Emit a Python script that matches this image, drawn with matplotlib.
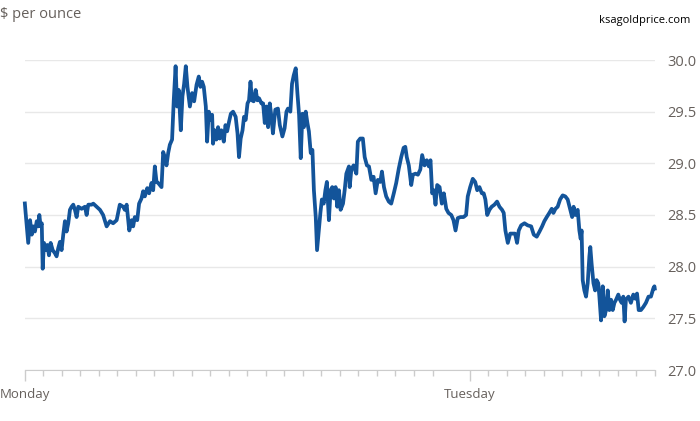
import matplotlib
matplotlib.use("Agg")
import matplotlib.pyplot as plt

plt.rcParams['font.family'] = ['Open Sans', 'DejaVu Sans']

# hours since Monday 00:00, price in $ per ounce
hours = [
    0.00, 0.05, 0.19, 0.29, 0.38, 0.46, 0.55, 0.65, 0.73, 0.79,
    0.86, 0.92, 0.97, 1.04, 1.13, 1.22, 1.31, 1.40, 1.51, 1.63,
    1.72, 1.81, 1.90, 1.99, 2.08, 2.17, 2.26, 2.35, 2.44, 2.53,
    2.62, 2.71, 2.80, 2.89, 3.07, 3.25, 3.34, 3.43, 3.61, 3.70,
    3.88, 4.06, 4.23, 4.42, 4.60, 4.77, 4.96, 5.13, 5.31, 5.40,
    5.50, 5.64, 5.77, 5.85, 5.94, 6.07, 6.17, 6.30, 6.39, 6.48,
    6.61, 6.71, 6.84, 6.93, 7.02, 7.11, 7.20, 7.38, 7.47, 7.56,
    7.65, 7.74, 7.83, 7.95, 8.04, 8.14, 8.22, 8.31, 8.42, 8.51,
    8.60, 8.69, 8.78, 8.91, 9.03, 9.14, 9.27, 9.39, 9.48, 9.57,
    9.66, 9.77, 9.84, 9.93, 10.02, 10.11, 10.16, 10.25, 10.34, 10.43,
    10.52, 10.61, 10.74, 10.83, 10.92, 11.02, 11.12, 11.24, 11.38, 11.48,
    11.56, 11.65, 11.75, 11.83, 11.92, 12.02, 12.10, 12.18, 12.26, 12.35,
    12.46, 12.55, 12.64, 12.77, 12.86, 12.95, 13.04, 13.13, 13.22, 13.31,
    13.39, 13.52, 13.66, 13.76, 13.90, 14.02, 14.12, 14.20, 14.33, 14.42,
    14.51, 14.62, 14.71, 14.80, 14.89, 14.98, 15.06, 15.16, 15.25, 15.33,
    15.43, 15.52, 15.60, 15.70, 15.77, 15.86, 15.95, 16.03, 16.13, 16.22,
    16.30, 16.41, 16.50, 16.59, 16.68, 16.77, 16.86, 16.95, 17.04, 17.17,
    17.26, 17.35, 17.49, 17.53, 17.62, 17.74, 17.89, 17.97, 18.10, 18.24,
    18.34, 18.46, 18.57, 18.70, 18.82, 18.93, 19.05, 19.18, 19.27, 19.38,
    19.50, 19.64, 19.77, 19.91, 20.04, 20.18, 20.31, 20.44, 20.53, 20.61,
    20.72, 20.85, 20.94, 21.08, 21.21, 21.34, 21.44, 21.57, 21.69, 21.80,
    21.89, 21.98, 22.07, 22.16, 22.25, 22.38, 22.50, 22.61, 22.74, 22.86,
    23.01, 23.13, 23.24, 23.36, 23.51, 23.67, 23.81, 23.90, 24.03, 24.17,
    24.30, 24.41, 24.53, 24.66, 24.76, 24.85, 24.95, 25.07, 25.19, 25.34,
    25.48, 25.61, 25.75, 25.84, 25.93, 26.06, 26.19, 26.33, 26.45, 26.56,
    26.65, 26.78, 26.96, 27.13, 27.32, 27.46, 27.62, 27.77, 27.91, 28.03,
    28.16, 28.30, 28.43, 28.52, 28.63, 28.75, 28.88, 29.02, 29.16, 29.29,
    29.42, 29.53, 29.61, 29.70, 29.83, 29.92, 29.99, 30.04, 30.10, 30.19,
    30.28, 30.37, 30.46, 30.51, 30.58, 30.68, 30.77, 30.85, 30.94, 31.00,
    31.09, 31.18, 31.27, 31.36, 31.45, 31.54, 31.63, 31.72, 31.81, 31.90,
    32.02, 32.11, 32.20, 32.29, 32.36, 32.43, 32.57, 32.70, 32.83, 32.94,
    33.03, 33.12, 33.24, 33.37, 33.51, 33.65, 33.78, 33.91, 33.97, 34.00,
]
price = [
    28.63, 28.52, 28.23, 28.45, 28.31, 28.39, 28.34, 28.44, 28.39, 28.50,
    28.39, 28.42, 27.98, 28.23, 28.16, 28.21, 28.11, 28.23, 28.16, 28.13,
    28.10, 28.18, 28.24, 28.16, 28.31, 28.44, 28.34, 28.42, 28.55, 28.58,
    28.60, 28.55, 28.48, 28.58, 28.56, 28.58, 28.50, 28.60, 28.60, 28.61,
    28.58, 28.55, 28.50, 28.39, 28.44, 28.42, 28.45, 28.60, 28.58, 28.55,
    28.60, 28.35, 28.45, 28.39, 28.48, 28.45, 28.61, 28.66, 28.73, 28.68,
    28.76, 28.71, 28.81, 28.74, 28.97, 28.82, 28.81, 28.77, 29.11, 29.06,
    28.98, 29.10, 29.18, 29.23, 29.61, 29.94, 29.55, 29.71, 29.32, 29.65,
    29.77, 29.94, 29.74, 29.55, 29.68, 29.60, 29.76, 29.84, 29.74, 29.79,
    29.74, 29.55, 29.21, 29.50, 29.42, 29.47, 29.19, 29.32, 29.23, 29.35,
    29.24, 29.32, 29.21, 29.37, 29.31, 29.40, 29.48, 29.50, 29.45, 29.29,
    29.06, 29.24, 29.32, 29.45, 29.42, 29.58, 29.61, 29.79, 29.61, 29.60,
    29.71, 29.61, 29.63, 29.58, 29.58, 29.39, 29.55, 29.35, 29.58, 29.45,
    29.29, 29.52, 29.53, 29.37, 29.26, 29.34, 29.50, 29.53, 29.50, 29.77,
    29.85, 29.92, 29.68, 29.47, 29.05, 29.48, 29.35, 29.50, 29.39, 29.31,
    29.10, 29.13, 28.74, 28.48, 28.16, 28.34, 28.52, 28.65, 28.61, 28.74,
    28.82, 28.45, 28.74, 28.77, 28.66, 28.77, 28.58, 28.74, 28.55, 28.61,
    28.74, 28.90, 28.97, 28.77, 28.94, 28.98, 28.90, 29.21, 29.24, 29.24,
    29.06, 28.98, 28.97, 28.84, 28.87, 28.71, 28.84, 28.82, 28.92, 28.77,
    28.68, 28.63, 28.61, 28.71, 28.81, 28.95, 29.06, 29.15, 29.16, 29.06,
    28.98, 28.79, 28.89, 28.90, 28.89, 28.94, 29.08, 28.98, 29.03, 28.97,
    29.03, 28.71, 28.74, 28.60, 28.79, 28.77, 28.61, 28.71, 28.56, 28.52,
    28.50, 28.45, 28.35, 28.47, 28.48, 28.48, 28.50, 28.68, 28.77, 28.85,
    28.82, 28.74, 28.77, 28.71, 28.71, 28.65, 28.50, 28.55, 28.58, 28.60,
    28.63, 28.58, 28.55, 28.52, 28.35, 28.23, 28.32, 28.32, 28.32, 28.23,
    28.35, 28.40, 28.42, 28.40, 28.39, 28.31, 28.29, 28.34, 28.39, 28.44,
    28.48, 28.52, 28.56, 28.52, 28.56, 28.58, 28.65, 28.69, 28.68, 28.65,
    28.56, 28.48, 28.58, 28.50, 28.55, 28.35, 28.27, 28.35, 27.87, 27.77,
    27.71, 27.84, 28.10, 28.19, 28.03, 27.84, 27.77, 27.87, 27.84, 27.71,
    27.48, 27.81, 27.52, 27.58, 27.77, 27.58, 27.68, 27.58, 27.65, 27.68,
    27.73, 27.68, 27.65, 27.71, 27.47, 27.68, 27.71, 27.65, 27.73, 27.69,
    27.74, 27.58, 27.58, 27.61, 27.65, 27.71, 27.71, 27.79, 27.81, 27.77,
]
assert len(hours) == len(price)

y_ticks = [27.0, 27.5, 28.0, 28.5, 29.0, 29.5, 30.0]
day_ticks = [0, 24]
day_labels = ['Monday', 'Tuesday']
hour_ticks = [h for h in range(1, 35) if h not in (23, 24)]

text_grey = '#66605c'

fig = plt.figure(figsize=(7, 4.21), dpi=100)
ax = fig.add_axes([24.7 / 700, 51 / 421, 630.3 / 700, 310 / 421])

ax.plot(hours, price, color='#13549a', lw=2.7, solid_joinstyle='round',
        solid_capstyle='butt', clip_on=False, zorder=3)

ax.set_xlim(0, 34)
ax.set_ylim(27, 30)

# y axis on the right, no tick marks
ax.yaxis.tick_right()
ax.set_yticks(y_ticks)
ax.set_yticklabels([f"{v:.1f}" for v in y_ticks])
ax.tick_params(axis='y', length=0, pad=9, labelsize=10.5, labelcolor=text_grey)
ax.grid(axis='y', color='#e8e8e8', lw=1)
ax.set_axisbelow(True)

# x axis: day labels + hourly minor ticks
ax.set_xticks(day_ticks)
ax.set_xticklabels(day_labels)
ax.set_xticks(hour_ticks, minor=True)
ax.tick_params(axis='x', which='major', length=8, width=1, color='#cccccc',
               pad=5, labelsize=9.5, labelcolor=text_grey)
ax.tick_params(axis='x', which='minor', length=4.5, width=1, color='#cccccc')

for side in ['top', 'left', 'right']:
    ax.spines[side].set_visible(False)
ax.spines['bottom'].set_color('#cccccc')
ax.spines['bottom'].set_zorder(2)

fig.text(0.0, 1 - 15 / 421, "$ per ounce", ha='left', va='center',
         fontsize=10.5, color=text_grey)
fig.text(690 / 700, 1 - 20 / 421, "ksagoldprice.com", ha='right', va='center',
         fontsize=8, color='black')

fig.savefig('out.png', dpi=100)
